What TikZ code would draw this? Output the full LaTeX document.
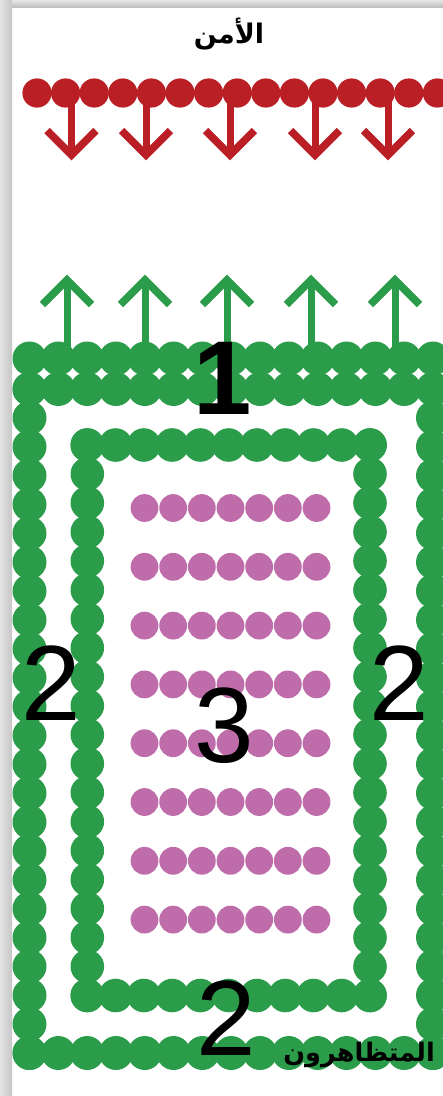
\documentclass[tikz,border=0pt]{standalone}
\usepackage{fontspec}
\setmainfont{Liberation Sans}
\newfontfamily\arabicfont[Script=Arabic]{DejaVu Sans}
\TeXXeTstate=1
\definecolor{secred}{RGB}{187,31,38}
\definecolor{protgreen}{RGB}{42,156,74}
\definecolor{crowdpink}{RGB}{191,108,171}
\tikzset{
  arrowline/.style={line width=7pt},
  vhead/.style={line width=7.6pt, line join=miter},
  bignum/.style={font=\fontsize{107}{107}\selectfont, anchor=base, inner sep=0pt, text=black},
  arlabel/.style={font=\arabicfont\bfseries\fontsize{27}{27}\selectfont, inner sep=0pt, text=black}
}
\begin{document}
\begin{tikzpicture}[x=1pt,y=-1pt]
\useasboundingbox (0,0) rectangle (443,1096);
\fill[white] (0,0) rectangle (443,1096);
\begin{scope}
\clip (12,7) rectangle (443,1096);
% security line
\foreach \x in {71.5,146,230,315,388}{
  \draw[secred, arrowline] (\x,93) -- (\x,155);
  \draw[secred, vhead] ({\x-24.5},130.5) -- (\x,155) -- ({\x+24.5},130.5);
}
\foreach \i in {0,...,14} \fill[secred] ({37+28.6*\i},93) circle[radius=14.6pt];
% protester arrows
\foreach \x in {67,145,227,311,395}{
  \draw[protgreen, arrowline] (\x,350) -- (\x,280);
  \draw[protgreen, vhead] ({\x-24.5},304.5) -- (\x,280) -- ({\x+24.5},304.5);
}
% outer frame
\foreach \i in {0,...,14}{
  \fill[protgreen] ({29.5+28.82*\i},358.5) circle[radius=17pt];
  \fill[protgreen] ({29.5+28.82*\i},389) circle[radius=17pt];
  \fill[protgreen] ({29.5+28.82*\i},1053) circle[radius=17pt];
}
\foreach \j in {0,...,23}{
  \fill[protgreen] (29.5,{389+28.87*\j}) circle[radius=17pt];
  \fill[protgreen] (433,{389+28.87*\j}) circle[radius=17pt];
}
% inner frame
\foreach \i in {0,...,10}{
  \fill[protgreen] ({87.3+28.27*\i},445) circle[radius=16.8pt];
  \fill[protgreen] ({87.3+28.27*\i},995.5) circle[radius=16.8pt];
}
\foreach \j in {0,...,19}{
  \fill[protgreen] (87.3,{445+28.97*\j}) circle[radius=16.8pt];
  \fill[protgreen] (370,{445+28.97*\j}) circle[radius=16.8pt];
}
% crowd
\foreach \j in {0,...,7}{
  \foreach \i in {0,...,6}{
    \fill[crowdpink] ({144.5+28.67*\i},{508+58.8*\j}) circle[radius=13.9pt];
  }
}
% labels
\node[arlabel] (security) at (229,34) {\beginR الأمن\endR};
\node[arlabel, font=\arabicfont\bfseries\fontsize{25.5}{25.5}\selectfont, anchor=base east] (protesters) at (435,1061) {\beginR المتظاهرون\endR};
\node[bignum, font=\bfseries\fontsize{105}{105}\selectfont] (one) at (223,414) {1};
\node[bignum] (twoleft) at (51.5,720) {2};
\node[bignum] (tworight) at (399,720) {2};
\node[bignum] (three) at (224,762) {3};
\node[bignum] (twobottom) at (226.5,1055) {2};
\end{scope}
% page shadow
\shade[left color=gray!22, right color=gray!45] (0,0) rectangle (12,1096);
\shade[top color=gray!20, bottom color=gray!50] (12,0) rectangle (443,7);
\end{tikzpicture}
\end{document}
